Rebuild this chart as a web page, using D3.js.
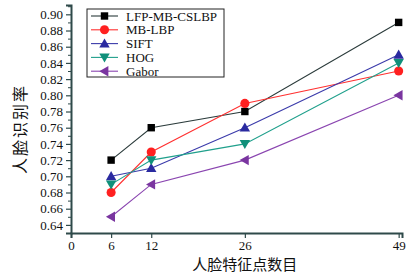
<!DOCTYPE html>
<html>
<head>
<meta charset="utf-8">
<script src="https://cdn.jsdelivr.net/npm/d3@7"></script>
<style>
  body { margin: 0; background: #fff; }
  .tick text { font-family: "Liberation Serif", serif; font-size: 13px; fill: #111; }
  .axis-text { font-family: "Noto Sans CJK SC", sans-serif; font-size: 15px; fill: #111; }
</style>
</head>
<body>
<div id="plot"></div>
<script>
// Define SVG area dimensions
var svgWidth = 410;
var svgHeight = 273;

// Data
var featurePoints = [6, 12, 26, 49];
var seriesNames = ["LFP-MB-CSLBP", "MB-LBP", "SIFT", "HOG", "Gabor"];
var lfpValues = [0.72, 0.76, 0.78, 0.89];
var mblbpValues = [0.68, 0.73, 0.79, 0.83];
var siftValues = [0.70, 0.71, 0.76, 0.85];
var hogValues = [0.69, 0.72, 0.74, 0.84];
var gaborValues = [0.65, 0.69, 0.72, 0.80];
var xTickValues = [0, 6, 12, 26, 49];
var yTickValues = [0.64, 0.66, 0.68, 0.70, 0.72, 0.74, 0.76, 0.78, 0.80, 0.82, 0.84, 0.86, 0.88, 0.90];

var seriesValues = [lfpValues, mblbpValues, siftValues, hogValues, gaborValues];
var lineColors = ["#2b3b3b", "#ff3030", "#3a3aaa", "#20a08c", "#8a45b0"];
var markerColors = ["#000000", "#ff2020", "#2a2aa0", "#10907a", "#7a35a0"];
var markerTypes = [d3.symbolSquare, d3.symbolCircle, "up", "down", "left"];

var chartMargin = { top: 5, right: 8, bottom: 40, left: 71 };
var chartWidth = svgWidth - chartMargin.left - chartMargin.right;
var chartHeight = svgHeight - chartMargin.top - chartMargin.bottom;

var svg = d3.select("#plot")
    .append("svg")
    .attr("width", svgWidth)
    .attr("height", svgHeight);

var chartGroup = svg.append("g")
    .attr("transform", `translate(${chartMargin.left}, ${chartMargin.top})`);

var xScale = d3.scaleLinear()
    .domain([0, 49.5])
    .range([0, chartWidth]);

var yScale = d3.scaleLinear()
    .domain([0.63, 0.9115])
    .range([chartHeight, 0]);

var axisColor = "#2f4a4a";

// y axis with minor ticks
var leftAxis = d3.axisLeft(yScale)
    .tickValues(yTickValues)
    .tickFormat(d3.format(".2f"))
    .tickSize(5)
    .tickPadding(3);
var yAxis = chartGroup.append("g").call(leftAxis);
yAxis.select(".domain").attr("stroke", axisColor).attr("stroke-width", 2);
yAxis.selectAll(".tick line").attr("stroke", axisColor).attr("stroke-width", 1.2);

var minorY = d3.range(0.63, 0.915, 0.02).map(d => +d.toFixed(2));
chartGroup.append("g")
    .call(d3.axisLeft(yScale).tickValues(minorY).tickSize(3).tickFormat(""))
    .call(g => g.select(".domain").remove())
    .selectAll(".tick line").attr("stroke", axisColor);

// x axis
var bottomAxis = d3.axisBottom(xScale)
    .tickValues(xTickValues)
    .tickSize(5)
    .tickPadding(3);
var xAxis = chartGroup.append("g")
    .attr("transform", `translate(0, ${chartHeight})`)
    .call(bottomAxis);
xAxis.select(".domain").attr("stroke", axisColor).attr("stroke-width", 2);
xAxis.selectAll(".tick line").attr("stroke", axisColor).attr("stroke-width", 1.2);

// axis labels
chartGroup.append("text")
    .attr("transform", `translate(${xScale(26)}, ${chartHeight + 37})`)
    .attr("text-anchor", "middle")
    .classed("axis-text", true)
    .text("人脸特征点数目");

chartGroup.append("text")
    .attr("transform", "rotate(-90)")
    .attr("x", -124)
    .attr("y", 26 - chartMargin.left)
    .attr("text-anchor", "middle")
    .attr("letter-spacing", 2)
    .style("font-size", "16px")
    .classed("axis-text", true)
    .text("人脸识别率");

// marker drawing helper
function triPath(dir, r) {
    if (dir === "up") return `M0,${-r}L${r},${r * 0.75}L${-r},${r * 0.75}Z`;
    if (dir === "down") return `M0,${r}L${r},${-r * 0.75}L${-r},${-r * 0.75}Z`;
    return `M${-r},0L${r * 0.75},${-r}L${r * 0.75},${r}Z`;
}
function markerPath(type) {
    if (typeof type === "string") return triPath(type, 5.2);
    if (type === d3.symbolSquare) return d3.symbol().type(type).size(55)();
    return d3.symbol().type(type).size(65)();
}

var line = d3.line()
    .x((d, i) => xScale(featurePoints[i]))
    .y(d => yScale(d));

seriesValues.forEach(function (values, s) {
    chartGroup.append("path")
        .datum(values)
        .attr("fill", "none")
        .attr("stroke", lineColors[s])
        .attr("stroke-width", 1.1)
        .attr("d", line);
    chartGroup.selectAll(".m" + s)
        .data(values)
        .enter()
        .append("path")
        .attr("class", "m" + s)
        .attr("transform", (d, i) => `translate(${xScale(featurePoints[i])}, ${yScale(d)})`)
        .attr("d", markerPath(markerTypes[s]))
        .attr("fill", markerColors[s]);
});

// legend
var legend = svg.append("g").attr("transform", "translate(87, 9)");
legend.append("rect")
    .attr("width", 137)
    .attr("height", 68)
    .attr("fill", "#fff")
    .attr("stroke", "#222")
    .attr("stroke-width", 1);
seriesNames.forEach(function (name, s) {
    var y = 7 + s * 13.8;
    legend.append("line")
        .attr("x1", 4).attr("x2", 31)
        .attr("y1", y).attr("y2", y)
        .attr("stroke", lineColors[s])
        .attr("stroke-width", 1.1);
    legend.append("path")
        .attr("transform", `translate(17.5, ${y})`)
        .attr("d", markerPath(markerTypes[s]))
        .attr("fill", markerColors[s]);
    legend.append("text")
        .attr("x", 39)
        .attr("y", y + 4.5)
        .attr("font-family", "Liberation Serif, serif")
        .attr("font-size", 13)
        .attr("fill", "#111")
        .text(name);
});
</script>
</body>
</html>
